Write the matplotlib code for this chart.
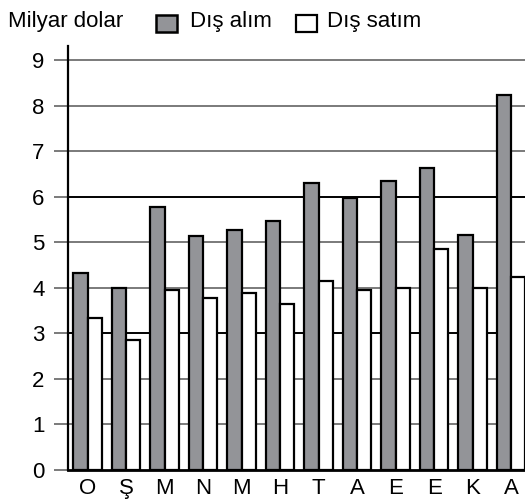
import matplotlib
matplotlib.use("Agg")
import matplotlib.pyplot as plt
from matplotlib.patches import Rectangle
import numpy as np

plt.rcParams['font.family'] = ['Liberation Sans', 'DejaVu Sans']

months = ["O", "Ş", "M", "N", "M", "H", "T", "A", "E", "E", "K", "A"]
dis_alim = [4.33, 4.0, 5.78, 5.13, 5.27, 5.46, 6.31, 5.97, 6.35, 6.63, 5.16, 8.24]
dis_satim = [3.33, 2.86, 3.94, 3.77, 3.89, 3.65, 4.15, 3.94, 4.0, 4.84, 4.0, 4.23]
yticks = [0, 1, 2, 3, 4, 5, 6, 7, 8, 9]
ylabel_text = "Milyar dolar"
legend_labels = ["Dış alım", "Dış satım"]

W, H = 525, 504
fig = plt.figure(figsize=(W / 100, H / 100), dpi=100)
ax = fig.add_axes([68 / W, (H - 470) / H, 457 / W, 423.7 / H])

fs = 16
gray_fill = "#939498"
x = np.arange(len(months))
bw = 0.372

# gridlines
for t in yticks:
    if t == 0:
        continue
    col = "black" if t in (3, 6) else "#7a7a7a"
    ax.axhline(t, color=col, lw=1.4, zorder=1)

ax.bar(x - bw / 2, dis_alim, width=bw, color=gray_fill, edgecolor="black",
       linewidth=1.6, zorder=3)
ax.bar(x + bw / 2, dis_satim, width=bw, color="white", edgecolor="black",
       linewidth=1.6, zorder=3)

ax.set_xlim(-0.51, 11.36)
ax.set_ylim(0, 9.3)
ax.set_yticks(yticks)
ax.set_yticklabels([str(t) for t in yticks], fontsize=fs)
ax.set_xticks(x)
ax.set_xticklabels(months, fontsize=fs)
ax.tick_params(axis='y', length=10, width=1.4, color="#7a7a7a", pad=7, direction='out')
ax.tick_params(axis='x', length=0, pad=6)

for s in ["top", "right"]:
    ax.spines[s].set_visible(False)
ax.spines["left"].set_linewidth(1.6)
ax.spines["bottom"].set_linewidth(2.0)
ax.spines["left"].set_zorder(4)
ax.spines["bottom"].set_zorder(4)

# header / legend
fig.text(8 / W, 1 - 27 / H, ylabel_text, fontsize=fs, va="baseline", ha="left")
fig.add_artist(Rectangle((156 / W, 1 - 32 / H), 21 / W, 17 / H, transform=fig.transFigure,
                         facecolor=gray_fill, edgecolor="black", linewidth=1.8))
fig.text(190 / W, 1 - 27 / H, legend_labels[0], fontsize=fs, va="baseline", ha="left")
fig.add_artist(Rectangle((296 / W, 1 - 32 / H), 21 / W, 17 / H, transform=fig.transFigure,
                         facecolor="white", edgecolor="black", linewidth=1.6))
fig.text(327 / W, 1 - 27 / H, legend_labels[1], fontsize=fs, va="baseline", ha="left")

fig.savefig("out.png", dpi=100)
